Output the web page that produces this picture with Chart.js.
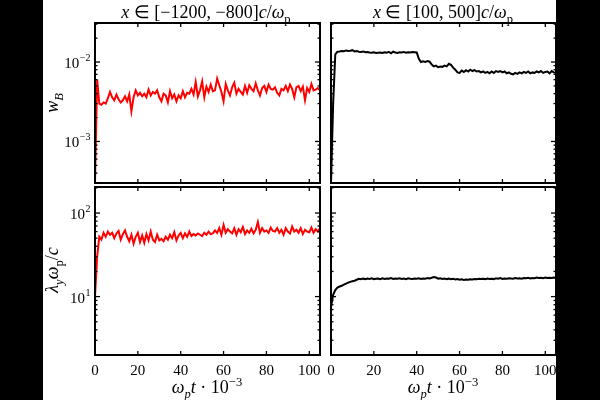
<!DOCTYPE html>
<html>
<head>
<meta charset="utf-8">
<script src="https://cdn.jsdelivr.net/npm/chart.js@4"></script>
<style>
  body{margin:0;background:#000;}
  #page{position:relative;width:600px;height:400px;background:#000;overflow:hidden;font-family:"Liberation Serif",serif;}
  #white{position:absolute;left:43px;top:0;width:513px;height:400px;background:#fff;}
  canvas{position:absolute;left:0;top:0;}
  #rightBlack{position:absolute;left:556px;top:0;width:44px;height:400px;background:#000;}
  .lbl{position:absolute;transform:translate(-50%,-50%);white-space:nowrap;color:#000;font-size:18px;line-height:1;}
  .rot{transform:translate(-50%,-50%) rotate(-90deg);}
  .m{font-style:italic;}
  sub,sup{font-size:70%;line-height:0;}
</style>
</head>
<body>
<div id="page">
  <div id="white"></div>
  <canvas id="c1" width="600" height="400"></canvas>
  <canvas id="c2" width="600" height="400"></canvas>
  <canvas id="c3" width="600" height="400"></canvas>
  <canvas id="c4" width="600" height="400"></canvas>
  <div id="rightBlack"></div>

  <div class="lbl" style="left:206px;top:12px"><span class="m">x</span> ∈ [−1200, −800]<span class="m">c</span>/<span class="m">ω</span><sub>p</sub></div>
  <div class="lbl" style="left:443px;top:12px"><span class="m">x</span> ∈ [100, 500]<span class="m">c</span>/<span class="m">ω</span><sub>p</sub></div>
  <div class="lbl rot" style="left:52px;top:103px"><span class="m">w</span><sub class="m">B</sub></div>
  <div class="lbl rot" style="left:52px;top:270px"><span class="m">λ</span><sub class="m">y</sub><span class="m">ω</span><sub>p</sub>/<span class="m">c</span></div>
  <div class="lbl" style="left:207px;top:387px"><span class="m">ω</span><sub class="m">p</sub><span class="m">t</span> · 10<sup>−3</sup></div>
  <div class="lbl" style="left:443px;top:387px"><span class="m">ω</span><sub class="m">p</sub><span class="m">t</span> · 10<sup>−3</sup></div>
</div>

<script>
// time axis, in units of 10^3 / omega_p
const TIME = [0,1,2,3,4,5,6,7,8,9,10,11,12,13,14,15,16,17,18,19,20,21,22,23,24,25,26,27,28,29,
  30,31,32,33,34,35,36,37,38,39,40,41,42,43,44,45,46,47,48,49,50,51,52,53,54,55,56,57,58,59,
  60,61,62,63,64,65,66,67,68,69,70,71,72,73,74,75,76,77,78,79,80,81,82,83,84,85,86,87,88,89,
  90,91,92,93,94,95,96,97,98,99,100,101,102,103,104,105];

// w_B upstream (x in [-1200,-800]), units of 1e-3
const WB_UP = [0.3,6.0,3.0,2.9,3.1,3.0,3.5,4.2,3.6,3.3,3.9,3.4,3.1,3.3,3.7,3.2,3.9,2.4,3.6,4.4,
  3.8,4.1,3.7,4.0,3.6,4.5,3.8,4.2,4.0,4.4,3.6,3.2,4.0,3.8,3.1,4.3,3.5,3.9,3.2,3.8,
  3.5,4.3,3.6,4.1,4.0,4.6,3.9,5.6,3.7,4.4,5.7,3.6,4.9,4.2,5.2,4.3,4.4,6.2,5.1,4.2,
  3.2,5.3,4.4,3.8,4.8,5.5,4.0,4.6,4.2,3.9,5.0,4.1,5.1,4.6,4.3,5.4,4.4,3.8,4.7,5.0,
  4.2,5.2,4.6,4.5,4.8,4.1,3.8,4.6,4.4,5.0,4.3,5.2,4.6,3.6,4.8,5.0,4.3,4.9,3.3,4.7,
  4.2,5.3,4.4,4.5,4.7,4.4];

// w_B downstream (x in [100,500]), units of 1e-3
const WB_DOWN = [0.3,3.0,12.5,13.5,13.6,13.8,13.7,14.0,13.8,13.9,14.1,13.6,13.8,13.5,13.4,13.6,13.3,13.4,13.2,13.1,
  13.3,13.0,13.1,13.2,13.0,13.3,13.1,13.4,12.9,13.5,13.2,13.0,13.3,13.2,13.4,13.1,13.3,13.2,13.4,13.3,
  13.2,11.0,10.0,10.2,10.0,10.3,10.1,9.3,8.8,9.0,8.6,8.8,8.7,9.0,8.8,9.5,9.2,8.5,8.0,7.4,
  7.3,7.8,7.5,7.9,7.6,8.0,7.7,7.9,7.6,7.7,7.4,7.6,7.3,7.5,7.2,7.6,7.3,7.7,7.5,7.7,
  7.4,7.6,7.2,7.4,7.1,7.0,7.3,7.1,7.4,7.2,7.5,7.3,7.6,7.2,7.4,7.3,7.6,7.4,7.7,7.3,
  7.5,7.6,7.2,7.7,7.4,7.3];

// lambda_y omega_p / c upstream
const LAM_UP = [10,30,52,48,58,52,60,55,58,50,57,61,48,56,62,52,46,55,43,52,
  58,45,54,44,56,47,60,48,45,55,47,49,46,52,48,55,50,59,47,54,
  58,50,57,52,60,53,56,54,57,55,53,58,55,60,56,57,62,58,66,55,
  72,58,64,60,57,66,55,64,59,68,56,62,58,65,57,63,78,58,66,60,
  62,58,67,61,60,66,58,63,55,66,60,57,69,60,63,58,66,56,63,60,
  59,67,58,64,60,66];

// lambda_y omega_p / c downstream
const LAM_DOWN = [7.5,10.5,12.0,12.8,13.2,13.5,13.9,14.3,14.7,15.0,15.3,15.5,15.9,16.3,16.1,16.4,16.2,16.5,16.3,16.6,
  16.2,16.4,16.5,16.2,16.6,16.3,16.5,16.4,16.7,16.3,16.5,16.4,16.6,16.3,16.5,16.2,16.6,16.4,16.3,16.5,
  16.4,16.6,16.3,16.5,16.4,16.7,16.5,16.8,17.1,16.9,16.4,16.6,16.3,16.5,16.2,16.4,16.1,16.3,16.0,16.2,
  15.9,16.1,15.8,16.0,15.9,16.1,16.0,16.2,16.1,16.3,16.2,16.4,16.2,16.5,16.3,16.4,16.2,16.6,16.4,16.7,
  16.3,16.5,16.4,16.6,16.5,16.4,16.7,16.5,16.6,16.4,16.7,16.6,16.8,16.5,16.7,16.6,16.9,16.7,16.8,16.6,
  16.9,16.7,16.8,16.7,16.9,16.8];

// ticks
const X_TICKS = [0,20,40,60,80,100];
const X_LABELS = ["0","20","40","60","80","100"];
const WB_MAJOR = [1e-3,1e-2];
const WB_EXP = ["−3","−2"];
const WB_MINOR = [4e-4,5e-4,6e-4,7e-4,8e-4,9e-4,2e-3,3e-3,4e-3,5e-3,6e-3,7e-3,8e-3,9e-3,2e-2,3e-2];
const LAM_MAJOR = [10,100];
const LAM_EXP = ["1","2"];
const LAM_MINOR = [2,3,4,5,6,7,8,9,20,30,40,50,60,70,80,90,200];

const FONT = '"Liberation Serif", serif';

const axesPlugin = {
  id: "axesPlugin",
  afterDatasetsDraw(chart, args, o){
    const {ctx, chartArea: a, scales: {x, y}} = chart;
    ctx.save();
    ctx.strokeStyle = "#000";
    ctx.fillStyle = "#000";
    ctx.lineWidth = 1.3;
    const seg = (x1,y1,x2,y2)=>{ ctx.beginPath(); ctx.moveTo(x1,y1); ctx.lineTo(x2,y2); ctx.stroke(); };

    X_TICKS.forEach(v=>{
      const px = x.getPixelForValue(v);
      seg(px, a.bottom, px, a.bottom-4);
      seg(px, a.top, px, a.top+4);
    });
    o.major.forEach(v=>{
      const py = y.getPixelForValue(v);
      seg(a.left, py, a.left+5, py);
      seg(a.right, py, a.right-5, py);
    });
    o.minor.forEach(v=>{
      const py = y.getPixelForValue(v);
      seg(a.left, py, a.left+2.5, py);
      seg(a.right, py, a.right-2.5, py);
    });

    ctx.lineWidth = 2;
    ctx.strokeRect(a.left, a.top, a.right-a.left, a.bottom-a.top);

    if (o.xLabels){
      ctx.font = "15px " + FONT;
      ctx.textAlign = "center";
      ctx.textBaseline = "middle";
      X_TICKS.forEach((v,i)=>{
        ctx.fillText(X_LABELS[i], x.getPixelForValue(v), a.bottom+16);
      });
    }
    if (o.yLabels){
      ctx.textBaseline = "alphabetic";
      ctx.textAlign = "left";
      o.major.forEach((v,i)=>{
        const py = y.getPixelForValue(v);
        ctx.font = "10px " + FONT;
        const we = ctx.measureText(o.exp[i]).width;
        ctx.font = "15px " + FONT;
        const wb = ctx.measureText("10").width;
        const x0 = a.left - 5 - we - wb;
        ctx.fillText("10", x0, py+6);
        ctx.font = "10px " + FONT;
        ctx.fillText(o.exp[i], x0+wb+0.5, py-1);
      });
    }
    ctx.restore();
  }
};

function makePanel(id, values, scaleY, color, yMin, yMax, pad, opts){
  const pts = values.map((v,i)=>({x: TIME[i], y: v*scaleY}));
  return new Chart(document.getElementById(id), {
    type: "line",
    data: { datasets: [{ data: pts, borderColor: color, borderWidth: 2, pointRadius: 0, tension: 0 }] },
    options: {
      responsive: false,
      animation: false,
      events: [],
      layout: { padding: pad },
      plugins: { legend: { display: false }, tooltip: { enabled: false }, axesPlugin: opts },
      scales: {
        x: { type: "linear", min: 0, max: 105, display: false },
        y: { type: "logarithmic", min: yMin, max: yMax, display: false }
      }
    },
    plugins: [axesPlugin]
  });
}

makePanel("c1", WB_UP, 1e-3, "#ff0000", 3e-4, 3.1e-2,
  {left:95, right:280, top:23, bottom:217},
  {major: WB_MAJOR, minor: WB_MINOR, exp: WB_EXP, yLabels: true, xLabels: false});
makePanel("c2", WB_DOWN, 1e-3, "#000000", 3e-4, 3.1e-2,
  {left:331, right:44, top:23, bottom:217},
  {major: WB_MAJOR, minor: WB_MINOR, exp: WB_EXP, yLabels: false, xLabels: false});
makePanel("c3", LAM_UP, 1, "#ff0000", 2, 205,
  {left:95, right:280, top:187, bottom:45},
  {major: LAM_MAJOR, minor: LAM_MINOR, exp: LAM_EXP, yLabels: true, xLabels: true});
makePanel("c4", LAM_DOWN, 1, "#000000", 2, 205,
  {left:331, right:44, top:187, bottom:45},
  {major: LAM_MAJOR, minor: LAM_MINOR, exp: LAM_EXP, yLabels: false, xLabels: true});
</script>
</body>
</html>
